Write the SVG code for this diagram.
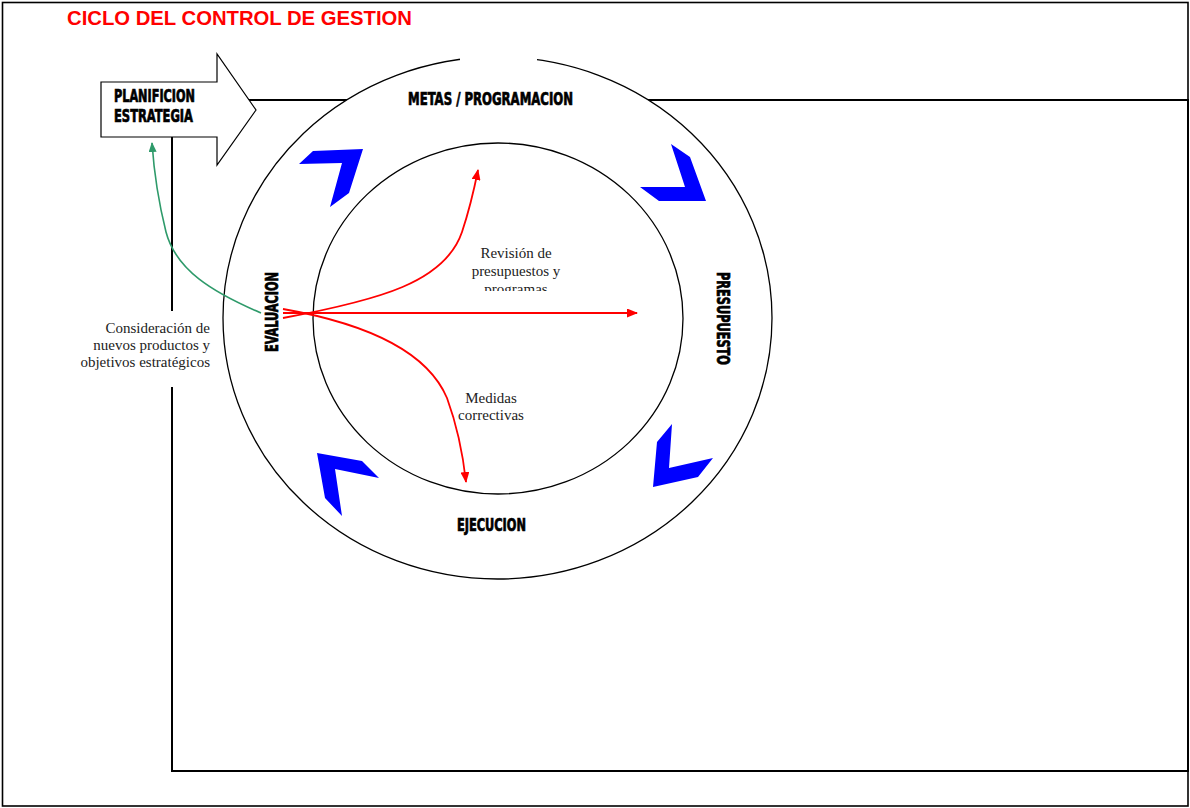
<svg xmlns="http://www.w3.org/2000/svg" width="1190" height="808" viewBox="0 0 1190 808">
<style>
.lbl{font-family:"Liberation Sans Narrow","DejaVu Sans Condensed","DejaVu Sans",sans-serif;font-weight:bold;font-stretch:condensed;font-size:17px;fill:#000;stroke:#000;stroke-width:0.7}
.note{font-family:"Liberation Serif","Times New Roman",serif;font-size:15px;fill:#222}
.chev{fill:#0000ff}
.red{fill:none;stroke:#ff0000;stroke-width:1.8}
</style>
<defs>
<marker id="ar" markerWidth="11" markerHeight="9" refX="10" refY="4.5" orient="auto" markerUnits="userSpaceOnUse">
<path d="M0,0 L11,4.5 L0,9 Z" fill="#ff0000"/>
</marker>
<marker id="ag" markerWidth="10" markerHeight="8" refX="9" refY="4" orient="auto" markerUnits="userSpaceOnUse">
<path d="M0,0 L10,4 L0,8 Z" fill="#2e9a6a"/>
</marker>
<clipPath id="clipRev"><rect x="440" y="230" width="150" height="61"/></clipPath>
</defs>
<rect x="0" y="0" width="1190" height="808" fill="#fff"/>
<rect x="2.5" y="2.5" width="1185.5" height="803.5" fill="none" stroke="#000" stroke-width="1.6"/>
<text x="67" y="25" font-family="Liberation Sans,Arial,sans-serif" font-weight="bold" font-size="20" fill="#ff0000" textLength="345" lengthAdjust="spacingAndGlyphs">CICLO DEL CONTROL DE GESTION</text>
<g id="frame">
<rect x="172" y="100" width="1016" height="671" fill="none" stroke="#000" stroke-width="2"/>
<rect x="160" y="311" width="56" height="76" fill="#fff"/>
</g>
<g id="planificacion">
<path d="M101,82 L217,82 L217,54 L256,110 L217,165 L217,137 L101,137 Z" fill="#fff" stroke="#000" stroke-width="1.2"/>
<text class="lbl" x="114" y="102" textLength="81" lengthAdjust="spacingAndGlyphs">PLANIFICION</text>
<text class="lbl" x="114" y="122" textLength="79" lengthAdjust="spacingAndGlyphs">ESTRATEGIA</text>
</g>
<g id="ciclo">
<ellipse cx="497.5" cy="318" rx="274.5" ry="261" fill="#fff" stroke="#000" stroke-width="1.3"/>
<rect x="460" y="50" width="77" height="14" fill="#fff"/>
<ellipse cx="498" cy="318.5" rx="185" ry="175.5" fill="#fff" stroke="#000" stroke-width="1.3"/>
</g>
<g id="metas"><text class="lbl" x="408" y="105" textLength="165" lengthAdjust="spacingAndGlyphs">METAS  / PROGRAMACION</text></g>
<g id="presupuesto"><text class="lbl" transform="translate(717,272) rotate(90)" x="0" y="0" textLength="93" lengthAdjust="spacingAndGlyphs">PRESUPUESTO</text></g>
<g id="ejecucion"><text class="lbl" x="457" y="531" textLength="69" lengthAdjust="spacingAndGlyphs">EJECUCION</text></g>
<g id="evaluacion"><text class="lbl" transform="translate(278,352) rotate(-90)" x="0" y="0" textLength="80" lengthAdjust="spacingAndGlyphs">EVALUACION</text></g>
<g id="chevrons">
<polygon class="chev" points="299,164 313,151 363,149 349,193 330,207 342,163"/>
<polygon class="chev" points="671,144 690,157 706,201 659,201 640,187 685,187"/>
<polygon class="chev" points="672,424 657,442 653,487 698,477 713,458 669,468"/>
<polygon class="chev" points="317,453 362,461 379,478 335,469 342,516 325,498"/>
</g>
<g id="connectors">
<path d="M261,313 C212,292 176,270 166,232 C158,200 154,172 152,143" fill="none" stroke="#2e9a6a" stroke-width="1.6" marker-end="url(#ag)"/>
<path class="red" d="M283,313 L637,313" marker-end="url(#ar)"/>
<path class="red" d="M283,318 C380,300 445,282 462,232 C471,205 475,185 478,170" marker-end="url(#ar)"/>
<path class="red" d="M283,309 C380,326 430,358 447,398 C458,428 463,455 466,482" marker-end="url(#ar)"/>
</g>
<g id="notas">
<text class="note" x="210" y="333" text-anchor="end">Consideración de</text>
<text class="note" x="210" y="350" text-anchor="end">nuevos productos y</text>
<text class="note" x="210" y="367" text-anchor="end">objetivos estratégicos</text>
<g clip-path="url(#clipRev)">
<text class="note" x="516" y="258" text-anchor="middle">Revisión de</text>
<text class="note" x="516" y="276" text-anchor="middle">presupuestos y</text>
<text class="note" x="516" y="294" text-anchor="middle">programas</text>
</g>
<text class="note" x="491" y="403" text-anchor="middle">Medidas</text>
<text class="note" x="491" y="420" text-anchor="middle">correctivas</text>
</g>
</svg>
